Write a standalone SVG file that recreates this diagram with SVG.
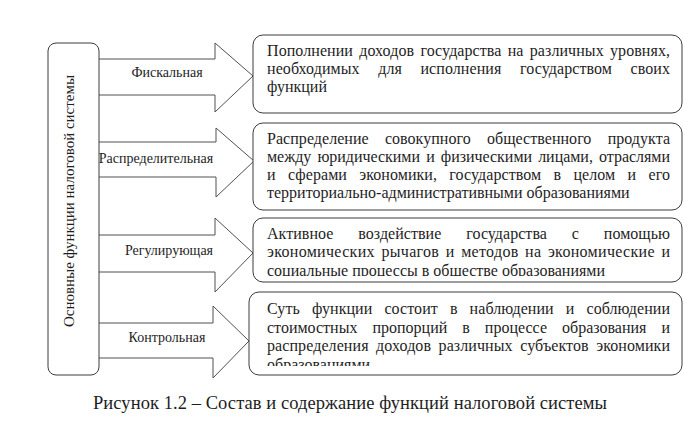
<svg xmlns="http://www.w3.org/2000/svg" width="684" height="426" viewBox="0 0 684 426">
<defs>
<style>
.box{fill:#fff;stroke:#3c3c3c;stroke-width:1}
.arr{fill:#fff;stroke:#505050;stroke-width:1}
.t{font-family:"Liberation Serif","Times New Roman",serif;font-size:16px;fill:#1e1e1e}
.lbl{font-family:"Liberation Serif","Times New Roman",serif;font-size:14px;fill:#1e1e1e;text-anchor:middle}
.cap{font-family:"Liberation Serif","Times New Roman",serif;font-size:18.5px;fill:#1e1e1e}
</style>
<clipPath id="c3"><rect x="253" y="218" width="430" height="58"/></clipPath>
<clipPath id="c4"><rect x="249" y="292" width="434" height="74"/></clipPath>
</defs>
<rect width="684" height="426" fill="#fff"/>

<g id="connectors">
<path class="arr" d="M99,59 H215 V43 L253,76 L215,112 V95 H99"/>
<path class="arr" d="M99,142 H216 V128 L254,161 L216,197 V177 H99"/>
<path class="arr" d="M99,235 H215 V218 L253,253 L215,292 V272 H99"/>
<path class="arr" d="M99,323 H213 V306 L249,341 L213,378 V358 H99"/>
</g>

<g id="root">
<rect class="box" x="48" y="43" width="51" height="332" rx="8"/>
<text class="t" style="font-size:15px" text-anchor="middle" transform="translate(74,201) rotate(-90)">Основные функции налоговой системы</text>
</g>

<g id="labels">
<text class="lbl" x="167" y="77">Фискальная</text>
<text class="lbl" x="156" y="163">Распределительная</text>
<text class="lbl" x="169" y="255">Регулирующая</text>
<text class="lbl" x="167" y="342">Контрольная</text>
</g>

<g id="n1">
<rect class="box" x="253" y="35" width="429" height="78" rx="10"/>
<text class="t" x="267" y="56" word-spacing="2.2" textLength="403" lengthAdjust="spacing">Пополнении доходов государства на различных уровнях,</text>
<text class="t" x="267" y="74" word-spacing="14.4" textLength="403" lengthAdjust="spacing">необходимых для исполнения государством своих</text>
<text class="t" x="267" y="92">функций</text>
</g>

<g id="n2">
<rect class="box" x="253" y="123" width="429" height="87" rx="10"/>
<text class="t" x="267" y="144" word-spacing="12.2" textLength="403" lengthAdjust="spacing">Распределение совокупного общественного продукта</text>
<text class="t" x="267" y="162" word-spacing="2.2" textLength="403" lengthAdjust="spacing">между юридическими и физическими лицами, отраслями</text>
<text class="t" x="267" y="180" word-spacing="8.3" textLength="403" lengthAdjust="spacing">и сферами экономики, государством в целом и его</text>
<text class="t" x="267" y="198">территориально-административными образованиями</text>
</g>

<g id="n3">
<rect class="box" x="253" y="218" width="429" height="64" rx="10"/>
<g clip-path="url(#c3)">
<text class="t" x="267" y="239" word-spacing="20.8" textLength="403" lengthAdjust="spacing">Активное воздействие государства с помощью</text>
<text class="t" x="267" y="257" word-spacing="2.2" textLength="403" lengthAdjust="spacing">экономических рычагов и методов на экономические и</text>
<text class="t" x="267" y="275.5">социальные процессы в обществе образованиями</text>
</g>
</g>

<g id="n4">
<rect class="box" x="249" y="292" width="433" height="83" rx="10"/>
<g clip-path="url(#c4)">
<text class="t" x="267" y="314" word-spacing="8" textLength="403" lengthAdjust="spacing">Суть функции состоит в наблюдении и соблюдении</text>
<text class="t" x="267" y="332.5" word-spacing="11" textLength="403" lengthAdjust="spacing">стоимостных пропорций в процессе образования и</text>
<text class="t" x="267" y="351" word-spacing="3.4" textLength="403" lengthAdjust="spacing">распределения доходов различных субъектов экономики</text>
<text class="t" x="267" y="369.5">образованиями</text>
</g>
</g>

<text class="cap" x="93" y="409" textLength="514" lengthAdjust="spacing">Рисунок 1.2 – Состав и содержание функций налоговой системы</text>
</svg>
